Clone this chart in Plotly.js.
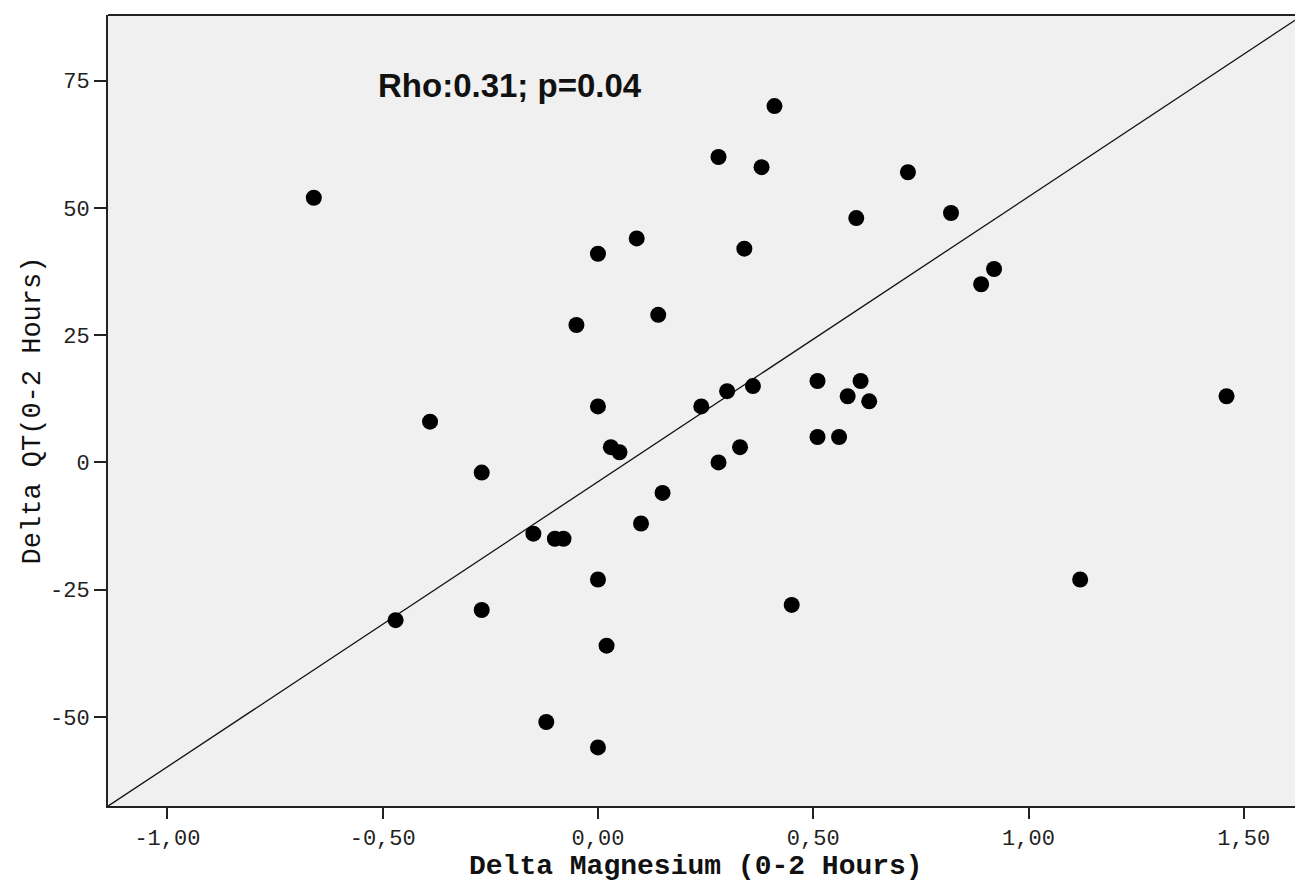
<!DOCTYPE html>
<html>
<head>
<meta charset="utf-8">
<script src="https://cdn.plot.ly/plotly-3.0.1.min.js"></script>
<style>html,body{margin:0;padding:0;background:#fff;}#chart{width:1295px;height:885px;}</style>
</head>
<body>
<div id="chart"></div>
<script>
// Delta Magnesium (0-2 h)
const deltaMg = [-0.66,0.41,0.28,0.38,0.72,0.60,0.82,0.09,0.00,0.34,0.92,0.89,0.14,-0.05,1.46,-0.39,0.00,-0.27,0.03,0.05,0.24,0.28,0.15,0.10,-0.15,-0.10,-0.08,0.00,-0.27,-0.47,0.02,-0.12,0.00,0.30,0.36,0.51,0.61,0.58,0.63,0.51,0.56,0.33,0.45,1.12];
// Delta QT (0-2 h)
const deltaQT = [52,70,60,58,57,48,49,44,41,42,38,35,29,27,13,8,11,-2,3,2,11,0,-6,-12,-14,-15,-15,-23,-29,-31,-36,-51,-56,14,15,16,16,13,12,5,5,3,-28,-23];
// Fit line
const fitSlope = 56.0;
const fitIntercept = -3.8;
const xRange = [-1.138, 1.619];
const yRange = [-67.5, 87.9];
const xTickVals = [-1,-0.5,0,0.5,1,1.5];
const xTickText = ["-1,00","-0,50","0,00","0,50","1,00","1,50"];
const yTickVals = [-50,-25,0,25,50,75];
const yTickText = ["-50","-25","0","25","50","75"];
const annotationText = "Rho:0.31; p=0.04";
const xTitleText = "Delta Magnesium (0-2 Hours)";
const yTitleText = "Delta QT(0-2 Hours)";

const fitX = xRange.slice();
const fitY = fitX.map(x => fitIntercept + fitSlope * x);

const traces = [
  {x: fitX, y: fitY, mode: 'lines', type: 'scatter', line: {color: '#111', width: 1.3}, hoverinfo: 'skip'},
  {x: deltaMg, y: deltaQT, mode: 'markers', type: 'scatter', marker: {color: '#000', size: 16, symbol: 'circle'}}
];

const tickFont = {family: 'Liberation Mono, monospace', size: 22, color: '#222'};
const layout = {
  width: 1295, height: 885,
  margin: {l: 108, r: 0, t: 15, b: 79},
  paper_bgcolor: '#ffffff',
  plot_bgcolor: '#f0f0f0',
  showlegend: false,
  xaxis: {
    range: xRange, tickvals: xTickVals, ticktext: xTickText,
    showgrid: false, zeroline: false, showline: true, linecolor: '#222', linewidth: 2,
    ticks: 'outside', ticklen: 11, tickwidth: 2, tickcolor: '#222',
    tickfont: tickFont
  },
  yaxis: {
    range: yRange, tickvals: yTickVals, ticktext: yTickText,
    showgrid: false, zeroline: false, showline: true, linecolor: '#222', linewidth: 2,
    ticks: 'outside', ticklen: 12, tickwidth: 2, tickcolor: '#222',
    tickfont: tickFont,
    title: {text: yTitleText, font: {family: 'Liberation Mono, monospace', size: 27, color: '#111'}, standoff: 2}
  },
  shapes: [
    {type: 'line', xref: 'paper', yref: 'paper', x0: 0, x1: 1, y0: 1, y1: 1, line: {color: '#222', width: 2}}
  ],
  annotations: [
    {text: annotationText, xref: 'paper', yref: 'paper', x: (510-108)/1187, y: (806-85)/791, showarrow: false,
     xanchor: 'center', yanchor: 'middle',
     font: {family: 'Liberation Sans, Arial, sans-serif', size: 33, color: '#111', weight: 'bold'}},
    {text: xTitleText, xref: 'paper', yref: 'paper', x: (696-108)/1187, y: (806-866)/791, showarrow: false,
     xanchor: 'center', yanchor: 'middle', borderpad: 0,
     font: {family: 'Liberation Mono, monospace', size: 28, color: '#111', weight: 'bold'}}
  ]
};

Plotly.newPlot('chart', traces, layout, {displayModeBar: false, staticPlot: true});
</script>
</body>
</html>
